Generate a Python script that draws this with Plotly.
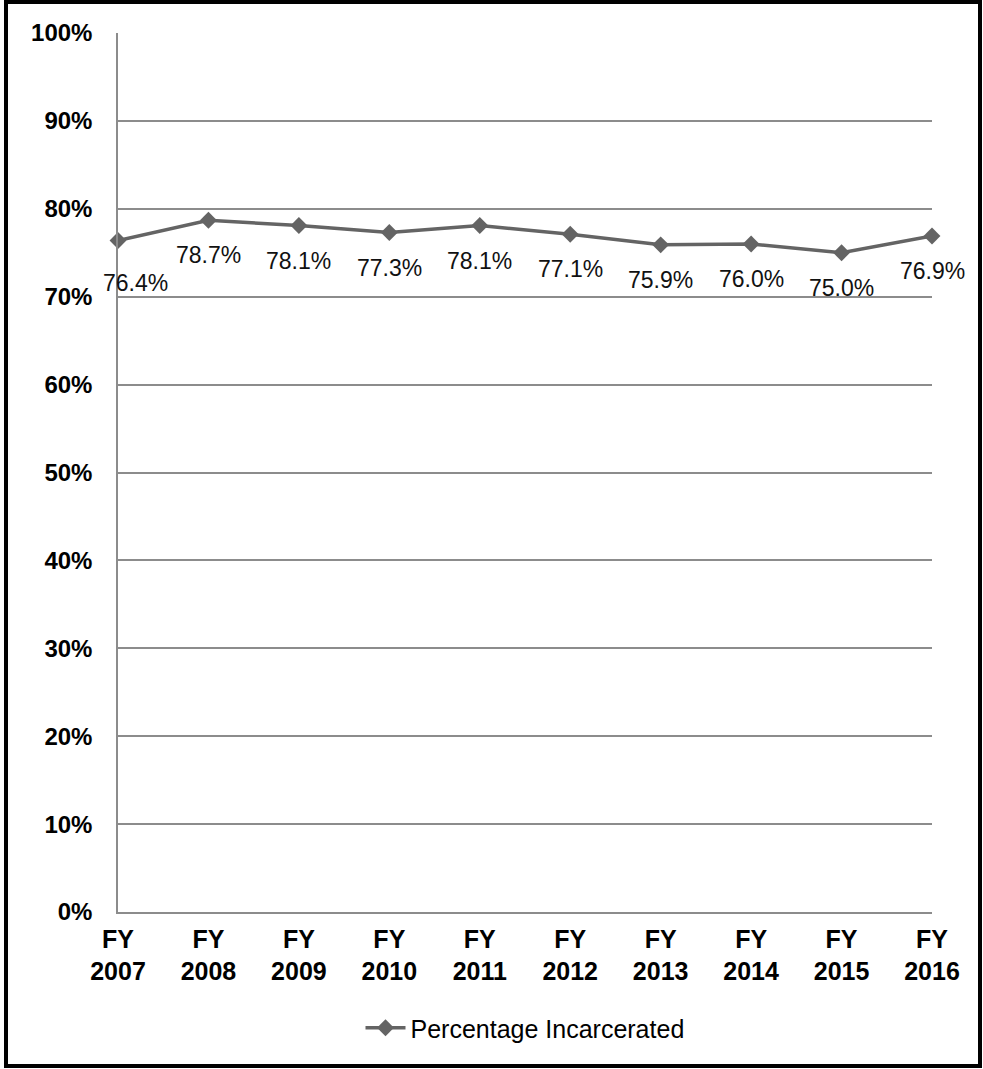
import plotly.graph_objects as go

YEARS = ["FY<br>2007", "FY<br>2008", "FY<br>2009", "FY<br>2010", "FY<br>2011",
         "FY<br>2012", "FY<br>2013", "FY<br>2014", "FY<br>2015", "FY<br>2016"]
PCT_INCARCERATED = [76.4, 78.7, 78.1, 77.3, 78.1, 77.1, 75.9, 76.0, 75.0, 76.9]
SERIES_NAME = "Percentage Incarcerated"

W, H = 983, 1069
L, R, T, B = 118, 51, 33, 157
PW, PH = W - L - R, H - T - B
LINE = "#646464"
GRID = "#8c8c8c"
FONT = "Arial, Liberation Sans, sans-serif"


def px_x(px):
    return (px - L) / PW


def px_y(py):
    return (H - B - py) / PH


fig = go.Figure(go.Scatter(
    x=YEARS, y=PCT_INCARCERATED, name=SERIES_NAME, mode="lines+markers",
    line=dict(color=LINE, width=3.5),
    marker=dict(symbol="diamond", size=13, color=LINE),
    cliponaxis=False))

# data labels sit below each point, like Excel's "below" placement
for i, (x, v) in enumerate(zip(YEARS, PCT_INCARCERATED)):
    fig.add_annotation(x=x, y=v, text=f"{v:.1f}%", showarrow=False,
                       xshift=17 if i == 0 else 0, yshift=-43 if i == 0 else -35,
                       font=dict(family=FONT, size=23, color="#111"))

# black frame round the whole chart
fig.add_shape(type="rect", xref="paper", yref="paper",
              x0=px_x(6), x1=px_x(980), y0=px_y(1066), y1=px_y(2),
              line=dict(color="black", width=4), layer="above")

fig.update_layout(
    width=W, height=H, margin=dict(l=L, r=R, t=T, b=B),
    paper_bgcolor="white", plot_bgcolor="white",
    font=dict(family=FONT, color="black"),
    showlegend=True,
    legend=dict(orientation="h", x=0.5, xanchor="center", y=px_y(1028), yanchor="middle",
                font=dict(size=25, family=FONT), itemwidth=40),
    xaxis=dict(type="category", range=[0, len(YEARS) - 1], showgrid=False,
               showline=True, linecolor=GRID, linewidth=1.5,
               tickfont=dict(size=25, family=FONT, color="black", weight="bold"),
               ticklabelstandoff=4),
    yaxis=dict(range=[0, 100], dtick=10, ticksuffix="%", showgrid=True, gridcolor=GRID,
               gridwidth=1.5, showline=True, linecolor=GRID, linewidth=1.5, zeroline=False,
               tickfont=dict(size=24, family=FONT, color="black", weight="bold"),
               ticklabelstandoff=19),
)

fig.write_html("out.html", config={"displayModeBar": False},
               post_script="document.body.style.margin = '0';")
